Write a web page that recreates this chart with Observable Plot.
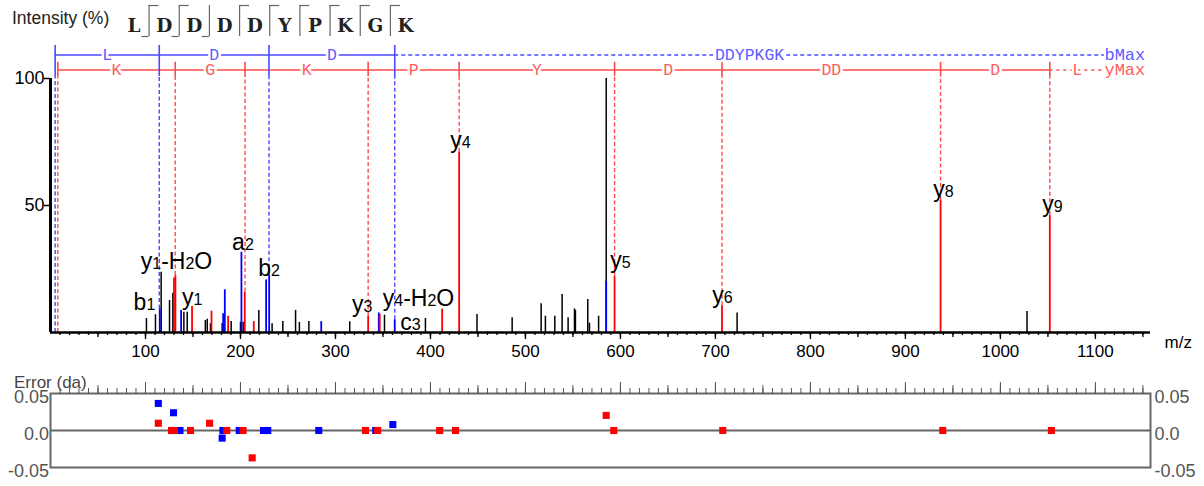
<!DOCTYPE html>
<html><head><meta charset="utf-8">
<script src="https://cdn.jsdelivr.net/npm/d3@7"></script>
<script src="https://cdn.jsdelivr.net/npm/@observablehq/plot@0.6"></script>
<style>
body{margin:0;background:#fff;font-family:"Liberation Sans",Arial,sans-serif;}
#wrap{position:relative;width:1204px;height:486px;overflow:hidden;background:#fff;}
#wrap svg{position:absolute;left:0;}
.lbl{position:absolute;line-height:1;white-space:nowrap;}
</style></head><body>
<div id="wrap">
  <div class="lbl" style="left:12px;top:10px;font-size:17.5px;color:#222;">Intensity (%)</div>
  <div class="lbl" style="left:14px;top:374px;font-size:17px;color:#444;">Error (da)</div>
</div>
<script>
// ---------------- data ----------------
const residues = ["L","D","D","D","D","Y","P","K","G","K"];
const bIons = [1, 2, 3];
const yIons = [1, 2, 3, 4, 5, 6, 8, 9];

const bLadderMz = [4.9, 114.5, 230.0, 362.4];
const bLadderRes = ["L", "D", "D"];
const bRest = "DDYPKGK";
const yLadderMz = [7.7, 131.3, 204.8, 334.4, 430.2, 593.8, 706.9, 937.0, 1052.0];
const yLadderRes = ["K", "G", "K", "P", "Y", "D", "DD", "D"];
const yRest = "L";
const ladderEndMz = 1109.5;
const bDrop = [0, 9.3, 22.7, 5];
const yDrop = [0, 22.4, 15.9, 6.4, 71, 22, 10.5, 52, 46];

const blackMz  = [101,110.5,116.5,125.3,128.8,140.4,143.9,163,165,168.4,180.7,190.2,200,202.8,219.3,233.3,244.6,258,262,272,315,351.6,394.7,449,486,516.5,521,530.9,538.6,544.9,551.6,552.6,565.6,567.4,577,585,722.8,1028];
const blackInt = [5.5,7,23.7,12.6,15.5,8,8,4.7,5.2,3.4,3.5,4.3,4,4,8.7,3.4,4.3,8.7,4,4.3,4.2,6.8,5.5,7.1,5.8,11.3,6.4,6.4,15,5.8,9.3,8.7,13,3.7,6.4,100,7.7,8.3];
const blueMz  = [115,137.5,181.8,183.5,201,227,230.2,285,345.6,362.4,585];
const blueInt = [9.3,8.7,7.4,16.8,31.6,20.7,22.7,4.3,7.7,5,20.2];
const redMz  = [130,131.5,149,169.5,187,204.5,214,334.4,346.6,412.3,430.2,593.8,706.9,937,1052];
const redInt = [21.5,22.4,10.2,8.4,6.4,15.9,4.3,6.4,7.2,9.2,71,22,10.5,52,46];

const ionLabels   = ["b1","y1-H2O","y1","a2","b2","y3","y4-H2O","c3","y4","y5","y6","y8","y9"];
const ionLabelMz  = [98.9,132.6,149.2,202.6,230,328.1,387.4,379,431.6,600,707.4,940,1054.7];
const ionLabelInt = [8.7,25.1,11.0,32.3,22.4,7.9,10.6,0.8,72.5,25.2,11.5,53.5,47.5];

const xTickValues = [100,200,300,400,500,600,700,800,900,1000,1100];
const xTickLabels = ["100","200","300","400","500","600","700","800","900","1000","1100"];
const yTickValues = [50, 100];
const yTickLabels = ["50", "100"];
const errTicks = [-0.05, 0, 0.05];
const errTickLabels = ["-0.05", "0.0", "0.05"];

const blueErrMz  = [113.5,129.5,136.3,180.7,181.5,198.7,224.3,228.7,282.4,342.4,360.4];
const blueErr    = [0.0366,0.024,0,-0.0103,0,0,0,0,0,0,0.008];
const redErrMz   = [113.5,127.4,130.5,147.4,167.5,185.5,202.7,212.3,331.6,344.4,409.7,426.4,585,593,707.7,939.3,1053.7];
const redErr     = [0.0098,0,0,0,0.0098,0,0,-0.037,0,0,0,0,0.0204,0,0,0,0];

// ---------------- styles / layout ----------------
const W = 1204, ML = 50, MR = 54;
const XDOM = [0, 1158];
const SANS = "Liberation Sans, Arial, sans-serif";
const MONO = "Liberation Mono, Courier New, monospace";
const SEQF = "DejaVu Serif, Liberation Serif, serif";
const BLUE = "#0000ff", RED = "#ff0000", BL = "#4a4aff", RL = "#ff4a4a", BT = "#5c5cff", RT = "#ff5c5c";
const B_ROW = 109.25, Y_ROW = 103.35, B_TOP = 113, Y_TOP = 106.4, TICK_END = 100.8;
const idx = a => a.map((_, i) => i);
const range = (a, b, s) => { const r = []; for (let v = a; v <= b + 1e-9; v += s) r.push(v); return r; };
const tens = range(10, 1150, 10), fifties = range(50, 1150, 50), hundreds = range(100, 1100, 100);
const wrap = document.getElementById("wrap");

// ---------------- header (sequence) ----------------
const sites = Array.from(new Set([...bIons, ...yIons.map(n => residues.length - n)])).sort((a, b) => a - b);
const HOOK_B = 0.24, HOOK_Y = 0.33;
const header = Plot.plot({
  width: W, height: 42, marginLeft: 133.5, marginRight: W - 405, marginTop: 5, marginBottom: 6,
  x: {domain: [0, residues.length - 1], axis: null},
  y: {domain: [0, 1], axis: null},
  style: {background: "transparent", overflow: "visible"},
  marks: [
    Plot.text(residues, {x: (d, i) => i, y: 0, text: d => d, lineAnchor: "bottom", dy: -4.5,
      fontSize: 18.5, fontWeight: "bold", fontFamily: SEQF, fill: "#222"}),
    Plot.ruleX(sites, {x: s => s - 0.5, y1: 0, y2: 1, stroke: "#666", strokeWidth: 1.2}),
    Plot.ruleY(bIons, {y: 0, x1: s => s - 0.5 - HOOK_B, x2: s => s - 0.5, stroke: "#666", strokeWidth: 1.2}),
    Plot.ruleY(yIons.map(n => residues.length - n), {y: 1, x1: s => s - 0.5, x2: s => s - 0.5 + HOOK_Y, stroke: "#666", strokeWidth: 1.2})
  ]
});
header.style.top = "0px";
wrap.appendChild(header);

// ---------------- main spectrum ----------------
const segs = (mz, res, rest) => {
  const s = res.map((r, i) => ({r, a: mz[i], b: mz[i + 1], dash: false}));
  s.push({r: rest, a: mz[mz.length - 1], b: ladderEndMz, dash: true});
  return s;
};
const bSegs = segs(bLadderMz, bLadderRes, bRest);
const ySegs = segs(yLadderMz, yLadderRes, yRest);

const main = Plot.plot({
  width: W, height: 330, marginLeft: ML, marginRight: MR, marginTop: 38, marginBottom: 38,
  x: {domain: XDOM, axis: null},
  y: {domain: [0, 100], axis: null},
  style: {background: "transparent", fontFamily: SANS, overflow: "visible"},
  marks: [
    // dashed drops from ladders
    Plot.ruleX(idx(bLadderMz), {x: i => bLadderMz[i], y1: i => bDrop[i], y2: TICK_END, stroke: BL, strokeWidth: 1.4, strokeDasharray: "4,2.5"}),
    Plot.ruleX(idx(yLadderMz), {x: i => yLadderMz[i], y1: i => yDrop[i], y2: TICK_END, stroke: RL, strokeWidth: 1.4, strokeDasharray: "4,2.5"}),
    // peaks
    Plot.ruleX(idx(blackMz), {x: i => blackMz[i], y1: 0, y2: i => blackInt[i], stroke: "#000", strokeWidth: 1.5}),
    Plot.ruleX(idx(blueMz), {x: i => blueMz[i], y1: 0, y2: i => blueInt[i], stroke: BLUE, strokeWidth: 1.8}),
    Plot.ruleX(idx(redMz), {x: i => redMz[i], y1: 0, y2: i => redInt[i], stroke: RED, strokeWidth: 1.8}),
    // axes
    Plot.ruleY([0], {stroke: "#000", strokeWidth: 2.5}),
    Plot.ruleX([0], {y1: 0, y2: 100, stroke: "#000", strokeWidth: 3}),
    Plot.axisX({ticks: tens, tickSize: 3, tickFormat: () => "", strokeWidth: 1.3, label: null}),
    Plot.axisX({ticks: fifties, tickSize: 5, tickFormat: () => "", strokeWidth: 1.3, label: null}),
    Plot.axisX({ticks: xTickValues, tickSize: 7, tickPadding: 5, strokeWidth: 1.3, fontSize: 17, fill: "#000",
      tickFormat: d => xTickLabels[xTickValues.indexOf(d)], label: null}),
    Plot.axisY({ticks: yTickValues, tickSize: 6, tickPadding: 0, strokeWidth: 1.5, fontSize: 18, fill: "#000",
      tickFormat: d => yTickLabels[yTickValues.indexOf(d)], label: null}),
    // ladders
    Plot.ruleY(bSegs.filter(d => !d.dash), {y: B_ROW, x1: "a", x2: "b", stroke: BL, strokeWidth: 1.5}),
    Plot.ruleY(bSegs.filter(d => d.dash), {y: B_ROW, x1: "a", x2: "b", stroke: BL, strokeWidth: 1.5, strokeDasharray: "4,3"}),
    Plot.ruleY(ySegs.filter(d => !d.dash), {y: Y_ROW, x1: "a", x2: "b", stroke: RL, strokeWidth: 1.5}),
    Plot.ruleY(ySegs.filter(d => d.dash), {y: Y_ROW, x1: "a", x2: "b", stroke: RL, strokeWidth: 1.5, strokeDasharray: "3,4"}),
    Plot.ruleX(bLadderMz, {x: d => d, y1: TICK_END, y2: B_TOP, stroke: BL, strokeWidth: 1.6}),
    Plot.ruleX(yLadderMz, {x: d => d, y1: TICK_END, y2: Y_TOP, stroke: RL, strokeWidth: 1.6}),
    Plot.text(bSegs, {x: d => (d.a + d.b) / 2, y: B_ROW, text: "r", fill: BT, stroke: "white", strokeWidth: 5,
      fontFamily: MONO, fontSize: 16.5, lineAnchor: "middle"}),
    Plot.text(ySegs, {x: d => (d.a + d.b) / 2, y: Y_ROW, text: "r", fill: RT, stroke: "white", strokeWidth: 5,
      fontFamily: MONO, fontSize: 16.5, lineAnchor: "middle"}),
    Plot.text(["bMax"], {x: ladderEndMz, y: B_ROW, text: d => d, fill: BT, textAnchor: "start", fontFamily: MONO, fontSize: 17, lineAnchor: "middle"}),
    Plot.text(["yMax"], {x: ladderEndMz, y: Y_ROW, text: d => d, fill: RT, textAnchor: "start", fontFamily: MONO, fontSize: 17, lineAnchor: "middle"}),
    // ion labels
    Plot.text(idx(ionLabels), {x: i => ionLabelMz[i], y: i => ionLabelInt[i], text: i => ionLabels[i],
      lineAnchor: "bottom", fontSize: 23, fill: "#000", className: "ionlab"}),
    Plot.text(["m/z"], {frameAnchor: "bottom-right", text: d => d, textAnchor: "start", dx: 14, dy: 10,
      fontSize: 17, lineAnchor: "middle"})
  ]
});
// subscripts for ion labels
main.querySelectorAll('g[font-size="23"] text, .ionlab text').forEach(t => {
  if (t.dataset.done) return;
  t.dataset.done = "1";
  const s = t.textContent;
  t.textContent = "";
  (s.match(/\d+|\D+/g) || []).forEach(part => {
    const ts = document.createElementNS("http://www.w3.org/2000/svg", "tspan");
    ts.textContent = part;
    if (/^\d+$/.test(part)) ts.setAttribute("font-size", "16");
    t.appendChild(ts);
  });
});
main.style.top = "40px";
wrap.appendChild(main);

// ---------------- error plot ----------------
const errPlot = Plot.plot({
  width: W, height: 116, marginLeft: ML, marginRight: MR, marginTop: 23, marginBottom: 19,
  x: {domain: XDOM, axis: null},
  y: {domain: [-0.05, 0.05], axis: null},
  style: {background: "transparent", fontFamily: SANS, overflow: "visible"},
  marks: [
    Plot.ruleY([0], {stroke: "#666", strokeWidth: 2}),
    Plot.frame({stroke: "#666", strokeWidth: 2}),
    Plot.axisX({anchor: "top", ticks: tens, tickSize: 6, tickFormat: () => "", stroke: "#555", label: null}),
    Plot.axisX({anchor: "top", ticks: fifties, tickSize: 9, tickFormat: () => "", stroke: "#555", label: null}),
    Plot.axisX({anchor: "top", ticks: hundreds, tickSize: 12, tickFormat: () => "", stroke: "#555", label: null}),
    Plot.axisY({anchor: "left", ticks: errTicks, tickSize: 0, tickPadding: 1.5, dy: 4, fontSize: 18, fill: "#555",
      tickFormat: d => errTickLabels[errTicks.indexOf(d)], label: null}),
    Plot.axisY({anchor: "right", ticks: errTicks, tickSize: 0, tickPadding: 4, dy: 4, fontSize: 18, fill: "#555",
      tickFormat: d => errTickLabels[errTicks.indexOf(d)], label: null}),
    Plot.dot(idx(blueErrMz), {x: i => blueErrMz[i], y: i => blueErr[i], symbol: "square", r: 4, fill: BLUE}),
    Plot.dot(idx(redErrMz), {x: i => redErrMz[i], y: i => redErr[i], symbol: "square", r: 4, fill: RED})
  ]
});
errPlot.style.top = "370px";
wrap.appendChild(errPlot);
</script>
</body></html>
